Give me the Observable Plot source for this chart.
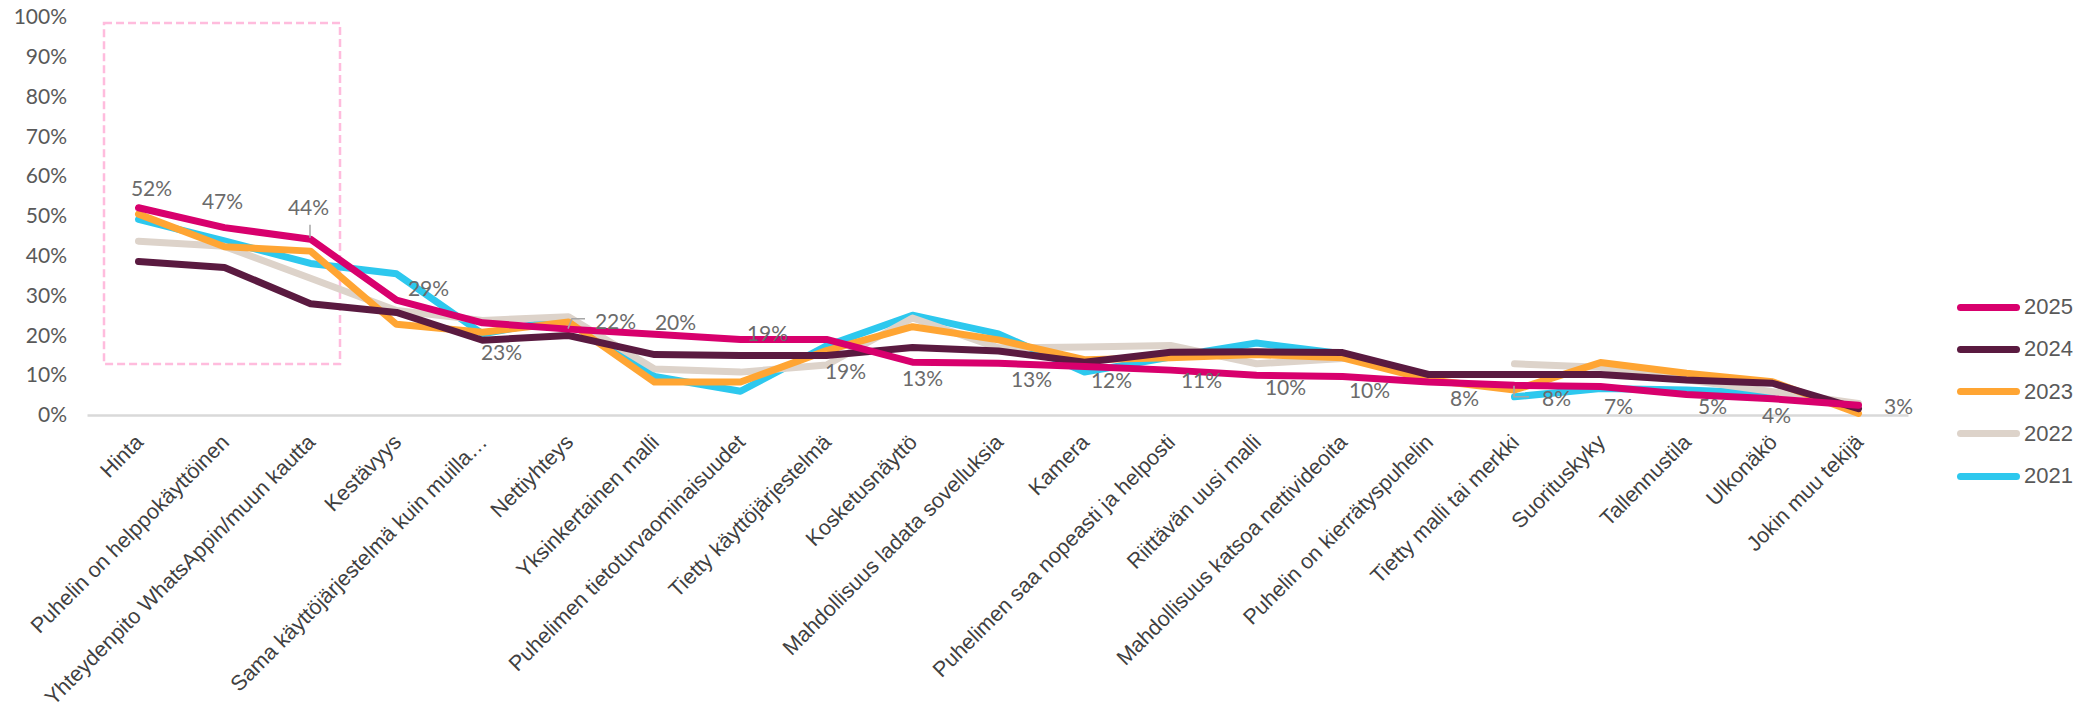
<!DOCTYPE html>
<html><head><meta charset="utf-8">
<script src="https://cdn.jsdelivr.net/npm/d3@7"></script>
<script src="https://cdn.jsdelivr.net/npm/@observablehq/plot@0.6"></script>
<style>
body{margin:0;background:#fff;}
#wrap{position:relative;width:2093px;height:724px;}
#legend{position:absolute;left:1957px;top:0;font-family:"Liberation Sans",Arial,sans-serif;font-size:22px;color:#595959;}
.item{position:absolute;left:0;display:flex;align-items:center;white-space:nowrap;height:26px;}
.sw{width:63px;height:7px;border-radius:4px;margin-right:4px;}
</style></head><body><div id="wrap"><div id="legend"></div></div>
<script>
const categories = [
  "Hinta",
  "Puhelin on helppokäyttöinen",
  "Yhteydenpito WhatsAppin/muun kautta",
  "Kestävyys",
  "Sama käyttöjärjestelmä kuin muilla…",
  "Nettiyhteys",
  "Yksinkertainen malli",
  "Puhelimen tietoturvaominaisuudet",
  "Tietty käyttöjärjestelmä",
  "Kosketusnäyttö",
  "Mahdollisuus ladata sovelluksia",
  "Kamera",
  "Puhelimen saa nopeasti ja helposti",
  "Riittävän uusi malli",
  "Mahdollisuus katsoa nettivideoita",
  "Puhelin on kierrätyspuhelin",
  "Tietty malli tai merkki",
  "Suorituskyky",
  "Tallennustila",
  "Ulkonäkö",
  "Jokin muu tekijä"
];
const years = ["2021", "2022", "2023", "2024", "2025"];
const v2025 = [52.2, 47.2, 44.3, 29.0, 23.3, 21.7, 20.4, 19.1, 19.1, 13.4, 13.1, 12.3, 11.4, 10.1, 9.8, 8.4, 7.6, 7.3, 5.3, 4.2, 2.6];
const v2024 = [38.7, 37.2, 28.1, 25.9, 18.9, 20.1, 15.3, 15.1, 15.1, 17.1, 16.2, 13.4, 15.9, 16.0, 15.8, 10.3, 10.3, 10.3, 8.9, 8.1, 1.7];
const v2023 = [50.6, 42.4, 41.3, 22.9, 20.9, 23.5, 8.4, 8.4, 16.3, 22.3, 19.0, 14.0, 14.5, 15.3, 14.5, 9.0, 6.4, 13.3, 10.6, 8.5, 0.5];
const v2022 = [43.8, 42.5, 34.5, 26.4, 23.9, 24.8, 11.7, 10.9, 12.7, 24.5, 17.0, 17.2, 17.6, 13.0, 14.3, null, 13.0, 12.1, 9.0, 6.0, 3.0];
const v2021 = [49.3, 43.9, 38.2, 35.6, 20.5, 24.4, 9.8, 6.1, 17.5, 25.2, 20.5, 10.9, 14.7, 18.2, 15.5, null, 4.7, 6.8, 6.4, 5.5, null];
const yTicks = [0, 10, 20, 30, 40, 50, 60, 70, 80, 90, 100];

const colors = {"2021": "#2DC8EE", "2022": "#DDD3CA", "2023": "#FFA533", "2024": "#5A1A40", "2025": "#D8006D"};
const series = {"2021": v2021, "2022": v2022, "2023": v2023, "2024": v2024, "2025": v2025};

// label placement (pixel offsets from the 2025 point)
const labelOffsets = [[13,-18],[-2,-25],[-2,-31],[32,-11],[19,30],[47,-7],[21,-11],[27,-5],[19,33],[10,17],[33,17],[27,15],[31,11],[29,13],[27,15],[36,17],[42,14],[18,21],[26,13],[4,17],[40,2]];
const leaderLines = [
  {i: 2, pts: [[0,-1],[0,-14]]},
  {i: 5, pts: [[0,0],[4,-10],[17,-10]]},
  {i: 16, pts: [[0,1],[0,12],[15,12]]}
];

const rows = [];
for (const y of years) series[y].forEach((v, i) => rows.push({year: y, cat: categories[i], value: v == null ? NaN : v / 100}));

function highlightBox(index, scales) {
  const x0 = scales.x(categories[0]) - 34, x1 = scales.x(categories[2]) + 30;
  const y0 = scales.y(0.985), y1 = scales.y(0.128);
  const g = d3.create("svg:g");
  g.append("rect").attr("x", x0).attr("y", y0).attr("width", x1 - x0).attr("height", y1 - y0)
    .attr("fill", "none").attr("stroke", "#FFBCDD").attr("stroke-width", 2.5).attr("stroke-dasharray", "8,4");
  return g.node();
}
function leaders(index, scales) {
  const g = d3.create("svg:g").attr("fill", "none").attr("stroke", "#A6A6A6").attr("stroke-width", 1.5);
  for (const L of leaderLines) {
    const px = scales.x(categories[L.i]), py = scales.y(v2025[L.i] / 100);
    g.append("path").attr("d", "M" + L.pts.map(([dx, dy]) => `${px + dx},${py + dy}`).join("L"));
  }
  return g.node();
}

const labelMarks = categories.map((c, i) => Plot.text([i], {
  x: () => c, y: () => v2025[i] / 100, text: () => Math.round(v2025[i]) + "%",
  dx: labelOffsets[i][0], dy: labelOffsets[i][1], fill: "#6B6B6B", fontSize: 21
}));

const chart = Plot.plot({
  width: 2093, height: 724,
  marginLeft: 87.5, marginRight: 184.5, marginTop: 17, marginBottom: 309,
  style: {fontFamily: "Lato, sans-serif", color: "#595959", background: "white", overflow: "visible"},
  x: {type: "point", domain: categories, padding: 0.5, axis: null},
  y: {domain: [0, 1], axis: null},
  color: {domain: years, range: years.map(y => colors[y])},
  marks: [
    Plot.axisY(yTicks.map(d => d / 100), {tickFormat: d3.format(".0%"), tickSize: 0, tickPadding: 21, fontSize: 21, label: null}),
    Plot.ruleY([0], {stroke: "#D9D9D9", strokeWidth: 2.5}),
    highlightBox,
    Plot.line(rows, {x: "cat", y: "value", z: "year", stroke: "year", strokeWidth: 7, strokeLinejoin: "round", strokeLinecap: "round"}),
    leaders,
    ...labelMarks,
    Plot.text(categories, {x: d => d, frameAnchor: "bottom", rotate: -45, textAnchor: "end", dx: 6, dy: 28,
      fontSize: 21.5, fill: "#404040", fontFamily: "Liberation Sans, Arial, sans-serif"})
  ]
});
document.getElementById("wrap").prepend(chart);

const legend = document.getElementById("legend");
["2025", "2024", "2023", "2022", "2021"].forEach((y, k) => {
  const it = document.createElement("div");
  it.className = "item";
  it.style.top = (307 + k * 42.3 - 13) + "px";
  it.innerHTML = `<span class="sw" style="background:${colors[y]}"></span><span>${y}</span>`;
  legend.appendChild(it);
});
</script></body></html>
